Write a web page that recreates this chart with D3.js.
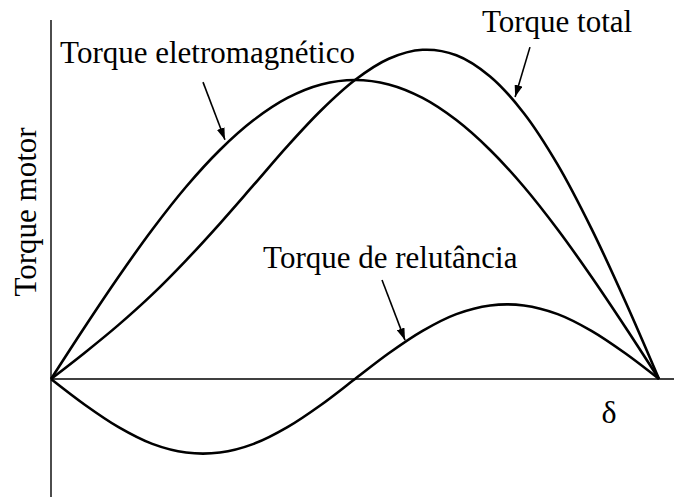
<!DOCTYPE html>
<html>
<head>
<meta charset="utf-8">
<script src="https://cdn.jsdelivr.net/npm/d3@7"></script>
</head>
<body style="margin:0">
<svg width="674" height="497"></svg>
<script>
// angulo de carga (graus)
var delta = [0, 10, 20, 30, 40, 50, 60, 70, 80, 90, 100, 110, 120, 130, 140, 150, 160, 170, 180];
// valores (pu do pico do torque eletromagnetico)
var torqueEletro = [0, 0.174, 0.342, 0.500, 0.643, 0.766, 0.866, 0.940, 0.985, 1.000, 0.985, 0.940, 0.866, 0.766, 0.643, 0.500, 0.342, 0.174, 0];
var torqueRelut = [0, -0.086, -0.161, -0.217, -0.246, -0.246, -0.217, -0.161, -0.086, 0, 0.086, 0.161, 0.217, 0.246, 0.246, 0.217, 0.161, 0.086, 0];
var torqueTotal = [0, 0.088, 0.181, 0.283, 0.397, 0.520, 0.649, 0.779, 0.899, 1.000, 1.071, 1.101, 1.083, 1.012, 0.889, 0.717, 0.503, 0.260, 0];

// textos com escapes unicode (e agudo, a circunflexo, delta)
var labels = ["Torque eletromagn\u00e9tico", "Torque total", "Torque de relut\u00e2ncia"];
var labelPos = [[2.7, 1.057], [127.6, 1.161], [62.8, 0.371]];
var arrowFrom = [[45.0, 0.993], [141.8, 1.11], [98.0, 0.331]];
var arrowTo = [[51.5, 0.80], [137.4, 0.943], [104.8, 0.13]];
var yTitle = "Torque motor";
var xTitle = "\u03b4";

var svg = d3.select("svg");

var xScale = d3.scaleLinear().domain([0, 180]).range([51, 659]);
var yScale = d3.scaleLinear().domain([-1, 1]).range([379 + 299, 379 - 299]);

// textos primeiro
labels.forEach(function (t, i) {
  svg.append("text")
    .attr("x", xScale(labelPos[i][0]))
    .attr("y", yScale(labelPos[i][1]))
    .attr("font-family", "Liberation Serif")
    .attr("font-size", 31)
    .text(t);
});

svg.append("text")
  .attr("transform", "translate(36,212) rotate(-90)")
  .attr("text-anchor", "middle")
  .attr("font-family", "Liberation Serif")
  .attr("font-size", 31)
  .text(yTitle);

svg.append("text")
  .attr("x", 609).attr("y", 423)
  .attr("text-anchor", "middle")
  .attr("font-family", "Liberation Serif")
  .attr("font-size", 32)
  .text(xTitle);

// eixos
svg.append("line")
  .attr("x1", xScale(0)).attr("x2", 674)
  .attr("y1", yScale(0)).attr("y2", yScale(0))
  .attr("stroke", "#000").attr("stroke-width", 1.4);
svg.append("line")
  .attr("x1", xScale(0)).attr("x2", xScale(0))
  .attr("y1", 20).attr("y2", 497)
  .attr("stroke", "#000").attr("stroke-width", 1.4);

var line = d3.line()
  .x(function (d, i) { return xScale(delta[i]); })
  .y(function (d) { return yScale(d); })
  .curve(d3.curveCatmullRom.alpha(0.5));

[torqueEletro, torqueRelut, torqueTotal].forEach(function (serie) {
  svg.append("path")
    .attr("d", line(serie))
    .attr("fill", "none")
    .attr("stroke", "#000")
    .attr("stroke-width", 2.6);
});

svg.append("defs").append("marker")
  .attr("id", "seta")
  .attr("markerUnits", "userSpaceOnUse")
  .attr("viewBox", "0 0 12 8")
  .attr("refX", 12).attr("refY", 4)
  .attr("markerWidth", 12).attr("markerHeight", 8)
  .attr("orient", "auto")
  .append("path")
  .attr("d", "M0,0 L12,4 L0,8 Z")
  .attr("fill", "#000");

arrowFrom.forEach(function (p, i) {
  svg.append("line")
    .attr("x1", xScale(p[0])).attr("y1", yScale(p[1]))
    .attr("x2", xScale(arrowTo[i][0])).attr("y2", yScale(arrowTo[i][1]))
    .attr("stroke", "#000").attr("stroke-width", 1.6)
    .attr("marker-end", "url(#seta)");
});
</script>
</body>
</html>
